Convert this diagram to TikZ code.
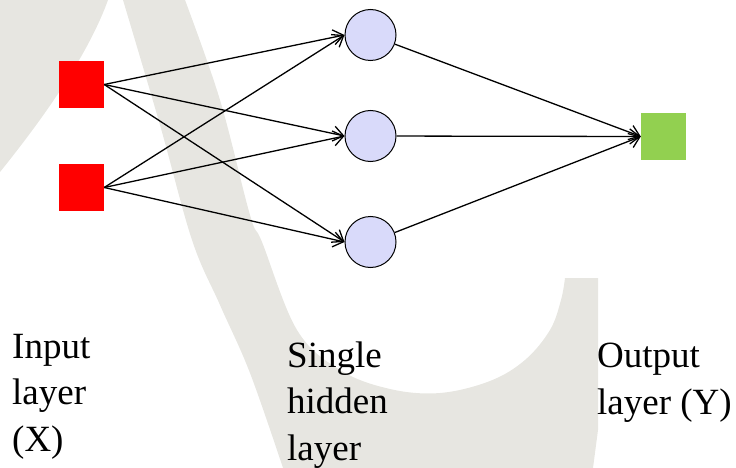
\documentclass[tikz,border=0pt]{standalone}
\usepackage{fontspec}
\setmainfont{Liberation Serif}
\usepackage{tikz}
\usetikzlibrary{arrows.meta}
\definecolor{unitred}{HTML}{FF0000}
\definecolor{unitgreen}{HTML}{92D050}
\definecolor{unitblue}{HTML}{D9DAFA}
\definecolor{wmgray}{HTML}{E7E6E1}
\tikzstyle{lbl}=[align=left, inner sep=0pt, anchor=base west, font=\fontsize{37}{46.5}\selectfont]

\begin{document}
\begin{tikzpicture}[x=1pt, y=-1pt,
                    neuron/.style={circle, draw, line width=1pt, minimum size=51pt, inner sep=0pt},
                    input/.style={fill=unitred, minimum width=45pt, minimum height=47pt, inner sep=0pt},
                    hidden/.style={neuron, fill=unitblue},
                    output/.style={fill=unitgreen, minimum width=45pt, minimum height=47pt, inner sep=0pt},
                    conn/.style={line width=1.3pt, -{Straight Barb[length=10pt, width=15pt, line width=1.3pt]}}]

    \useasboundingbox (0,0) rectangle (736,468);
    % watermark
    \fill[wmgray] (0,0) -- (108,0) .. controls (90,50) and (50,110) .. (0,172) -- cycle;
    \fill[wmgray] (123,0) -- plot[smooth, tension=0.6] coordinates {(185,0) (220,100) (250,215) (262,242) (297,330) (340,370) (390,389) (440,393) (490,381) (525,360) (550,330) (561,300) (565,278)}
        -- (598,278) -- (598,430) -- (593,468)
        -- plot[smooth, tension=0.6] coordinates {(283,468) (250,373) (220,305) (192,240) (160,125) (123,0)} -- cycle;

    % input layer
    \node[input] (in1) at (81.5,84.5) {};
    \node[input] (in2) at (81.5,187.5) {};
    % hidden layer
    \node[hidden] (h1) at (370.5,35) {};
    \node[hidden] (h2) at (370.5,136) {};
    \node[hidden] (h3) at (370.5,242) {};
    % output layer
    \node[output] (out) at (663.5,136.5) {};

    % labels (placed by the baseline of their last line)
    \node[lbl] (lin) at (12,451) {Input\\layer\\(X)};
    \node[lbl] (lhid) at (287,460) {Single\\hidden\\layer};
    \node[lbl] (lout) at (597,414) {Output\\layer (Y)};

    % connections input -> hidden
    \draw[conn] (in1.east) -- (h1.west);
    \draw[conn] (in1.east) -- (h2.west);
    \draw[conn] (in1.east) -- (h3.west);
    \draw[conn] (in2.east) -- (h1.west);
    \draw[conn] (in2.east) -- (h2.west);
    \draw[conn] (in2.east) -- (h3.west);

    % connections hidden -> output
    \draw[conn] (h1) -- (out.west);
    \draw[conn] (h2) -- (out.west);
    \draw[conn] (h3) -- (out.west);
\end{tikzpicture}
\end{document}
